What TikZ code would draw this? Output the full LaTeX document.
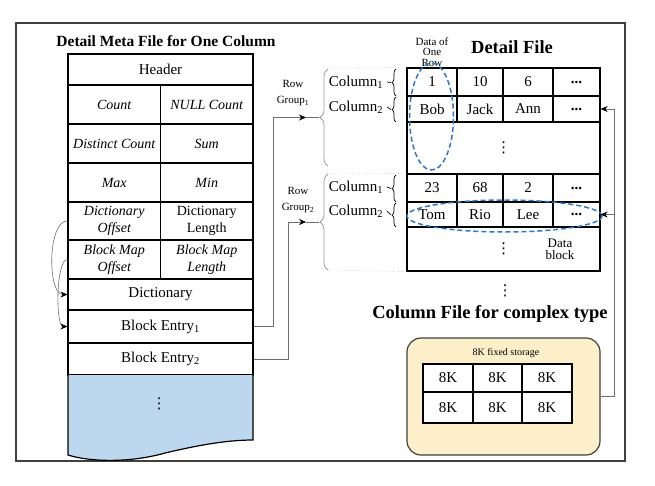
\documentclass[tikz,border=0pt]{standalone}
\usepackage{fontspec}
\setmainfont{Liberation Serif}
\newfontfamily\symfont{DejaVu Sans}
\usetikzlibrary{shapes.geometric,decorations.pathreplacing,arrows.meta}

\definecolor{framegray}{RGB}{64,64,64}
\definecolor{bracegray}{RGB}{155,155,155}
\definecolor{linegray}{RGB}{110,110,110}
\definecolor{rowblue}{RGB}{45,120,200}
\definecolor{blockblue}{RGB}{189,215,238}
\definecolor{storebeige}{RGB}{253,239,201}
\newcommand{\stackdots}{{\symfont ⋮}}

\begin{document}
\begin{tikzpicture}[x=1pt,y=-1pt,>={Stealth[length=7pt,width=6pt,black]},line width=1.2pt]
  \tikzstyle{cell}=[draw, inner sep=0pt, align=center, font=\fontsize{15}{17}\selectfont]
  \tikzstyle{meta}=[cell, minimum width=92.5pt, minimum height=39pt, font=\fontsize{14}{17}\selectfont\itshape]
  \tikzstyle{wide}=[cell, minimum width=185pt]
  \tikzstyle{dcell}=[cell, minimum height=28pt]
  \tikzstyle{kcell}=[cell, fill=white, minimum height=28pt]
  \tikzstyle{title}=[font=\fontsize{18.5}{20}\selectfont\bfseries]
  \tikzstyle{small}=[font=\fontsize{11}{16}\selectfont, align=center, inner sep=0pt]
  \tikzstyle{dots}=[font=\fontsize{15}{17}\selectfont, inner sep=0pt]
  \tikzstyle{link}=[linegray, line width=0.6pt]
  \tikzstyle{rowsel}=[ellipse, draw=rowblue, line width=1.5pt, dash pattern=on 5pt off 3pt, inner sep=0pt]
  \tikzstyle{grpbrace}=[bracegray, line width=0.8pt, decorate, decoration={brace, amplitude=8pt}]
  \tikzstyle{colbrace}=[line width=0.7pt, decorate, decoration={brace, amplitude=4pt}]

  \useasboundingbox (0,0) rectangle (655,485);
  \draw[framegray, line width=1.5pt] (16,23) rectangle (625,461);

  % meta file
  \node[font=\fontsize{15.5}{17}\selectfont\bfseries] (metatitle) at (166,41) {Detail Meta File for One Column};
  \node[wide, minimum height=31pt] (hdr) at (160.5,69.5) {Header};
  \node[meta] (cnt) at (114.25,104.5) {Count};
  \node[meta] (nullcnt) at (206.75,104.5) {NULL Count};
  \node[meta] (dcnt) at (114.25,143.5) {Distinct Count};
  \node[meta] (sum) at (206.75,143.5) {Sum};
  \node[meta] (max) at (114.25,182.5) {Max};
  \node[meta] (min) at (206.75,182.5) {Min};
  \node[meta, minimum height=38pt] (dicoff) at (114.25,221) {Dictionary\\Offset};
  \node[meta, minimum height=38pt, font=\fontsize{14}{17}\selectfont] (diclen) at (206.75,221) {Dictionary\\Length};
  \node[meta] (bmoff) at (114.25,259.5) {Block Map\\Offset};
  \node[meta] (bmlen) at (206.75,259.5) {Block Map\\Length};
  \node[wide, minimum height=31pt] (dict) at (160.5,294.5) {Dictionary};
  \node[wide, minimum height=33pt] (entA) at (160.5,326.5) {Block Entry\textsubscript{1}};
  \node[wide, minimum height=32pt] (entB) at (160.5,359) {Block Entry\textsubscript{2}};
  \draw[fill=blockblue] (68,375) -- (68,455) .. controls (90,462) and (130,463) .. (165,453)
    .. controls (195,446) and (225,440) .. (253,440) -- (253,375);
  \node[dots] (moredots) at (159,404) {\stackdots};

  \draw[->, link] (dicoff.west) to[out=180, in=180, looseness=0.7] (dict.west);
  \draw[->, link] (bmoff.west) to[out=180, in=180, looseness=0.45] (entA.west);

  % detail file
  \node[title] (detailtitle) at (512,47) {Detail File};
  \node[small, font=\fontsize{11}{10.5}\selectfont] (onerow) at (432,52) {Data of\\One\\Row};

  \node[dcell, minimum width=50pt] (a11) at (432,82) {1};
  \node[dcell, minimum width=46pt] (a12) at (480,82) {10};
  \node[dcell, minimum width=50pt] (a13) at (528,82) {6};
  \node[dcell, minimum width=47pt] (a14) at (576.5,82) {\textbf{...}};
  \node[dcell, minimum width=50pt, minimum height=26pt] (a21) at (432,109) {Bob};
  \node[dcell, minimum width=46pt, minimum height=26pt] (a22) at (480,109) {Jack};
  \node[dcell, minimum width=50pt, minimum height=26pt] (a23) at (528,109) {Ann};
  \node[dcell, minimum width=47pt, minimum height=26pt] (a24) at (576.5,109) {\textbf{...}};
  \node[cell, minimum width=193pt, minimum height=52pt] (ablk) at (503.5,148) {\stackdots};

  \node[dcell, minimum width=50pt] (b11) at (432,188) {23};
  \node[dcell, minimum width=46pt] (b12) at (480,188) {68};
  \node[dcell, minimum width=50pt] (b13) at (528,188) {2};
  \node[dcell, minimum width=47pt] (b14) at (576.5,188) {\textbf{...}};
  \node[dcell, minimum width=50pt, minimum height=25pt] (b21) at (432,214.5) {Tom};
  \node[dcell, minimum width=46pt, minimum height=25pt] (b22) at (480,214.5) {Rio};
  \node[dcell, minimum width=50pt, minimum height=25pt] (b23) at (528,214.5) {Lee};
  \node[dcell, minimum width=47pt, minimum height=25pt] (b24) at (576.5,214.5) {\textbf{...}};
  \node[cell, minimum width=193pt, minimum height=44pt] (bblk) at (503.5,249) {\stackdots};
  \node[small, font=\fontsize{13}{12}\selectfont] (datablock) at (560,249) {Data\\block};

  \node[rowsel, minimum width=44pt, minimum height=107pt] (onerowsel) at (431.5,116.5) {};
  \node[rowsel, minimum width=195pt, minimum height=32pt] (onecolsel) at (504.5,216) {};

  % column labels and braces
  \node[font=\fontsize{15}{17}\selectfont] (acol1) at (356,82) {Column\textsubscript{1}};
  \node[font=\fontsize{15}{17}\selectfont] (acol2) at (356,107) {Column\textsubscript{2}};
  \node[font=\fontsize{15}{17}\selectfont] (bcol1) at (356,187) {Column\textsubscript{1}};
  \node[font=\fontsize{15}{17}\selectfont] (bcol2) at (356,211) {Column\textsubscript{2}};
  \draw[colbrace] (396,96) -- (396,69);
  \draw[colbrace] (396,122) -- (396,97);
  \draw[colbrace] (396,202) -- (396,175);
  \draw[colbrace] (396,227) -- (396,203);
  \coordinate (a1tip) at (391,82.5);
  \coordinate (a2tip) at (391,109.5);
  \coordinate (b1tip) at (391,188.5);
  \coordinate (b2tip) at (391,215);
  \draw[line width=0.7pt] (acol1.east) -- (a1tip);
  \draw[line width=0.7pt] (acol2.east) -- (a2tip);
  \draw[line width=0.7pt] (bcol1.east) -- (b1tip);
  \draw[line width=0.7pt] (bcol2.east) -- (b2tip);

  % row groups
  \draw[grpbrace] (328,166) -- (328,69);
  \draw[grpbrace] (328,270) -- (328,174);
  \draw[bracegray!60, line width=0.6pt, dotted] (328,68) -- (ablk.north west |- a11.north);
  \draw[bracegray!60, line width=0.6pt, dotted] (328,174) -- (bblk.north west |- b11.north);
  \draw[bracegray!60, line width=0.6pt, dotted] (328,270) -- (bblk.south west);
  \coordinate (rg1tip) at (319,117.5);
  \coordinate (rg2tip) at (319,222);
  \coordinate (rg1in) at (306,117.5);
  \coordinate (rg2in) at (306,222);
  \node[small] (rg1) at (293,93) {Row\\Group\textsubscript{1}};
  \node[small] (rg2) at (298,200) {Row\\Group\textsubscript{2}};
  \draw[->, link] (entA.east) -- ++(20,0) |- (rg1in);
  \draw[link] (rg1in) -- (rg1tip);
  \draw[->, link] (entB.east) -- ++(35,0) |- (rg2in);
  \draw[link] (rg2in) -- (rg2tip);

  % complex type
  \node[dots] (cdots) at (505,291) {\stackdots};
  \node[title] (complextitle) at (490,314) {Column File for complex type};
  \node[draw=framegray, fill=storebeige, rounded corners=14pt, minimum width=193pt,
    minimum height=117pt] (store) at (503.5,396.5) {};
  \node[font=\fontsize{10}{12}\selectfont] (storelabel) at (506,353) {8K fixed storage};
  \node[kcell, minimum width=50pt] (k11) at (448,378) {8K};
  \node[kcell, minimum width=49pt] (k12) at (497.5,378) {8K};
  \node[kcell, minimum width=50pt] (k13) at (547,378) {8K};
  \node[kcell, minimum width=50pt, minimum height=31pt] (k21) at (448,407.5) {8K};
  \node[kcell, minimum width=49pt, minimum height=31pt] (k22) at (497.5,407.5) {8K};
  \node[kcell, minimum width=50pt, minimum height=31pt] (k23) at (547,407.5) {8K};

  \draw[->, link] (store.east) -- ++(14,0) coordinate (rbus) |- (a24.east);
  \draw[->, link] (rbus |- b24.east) -- (b24.east);
\end{tikzpicture}
\end{document}
